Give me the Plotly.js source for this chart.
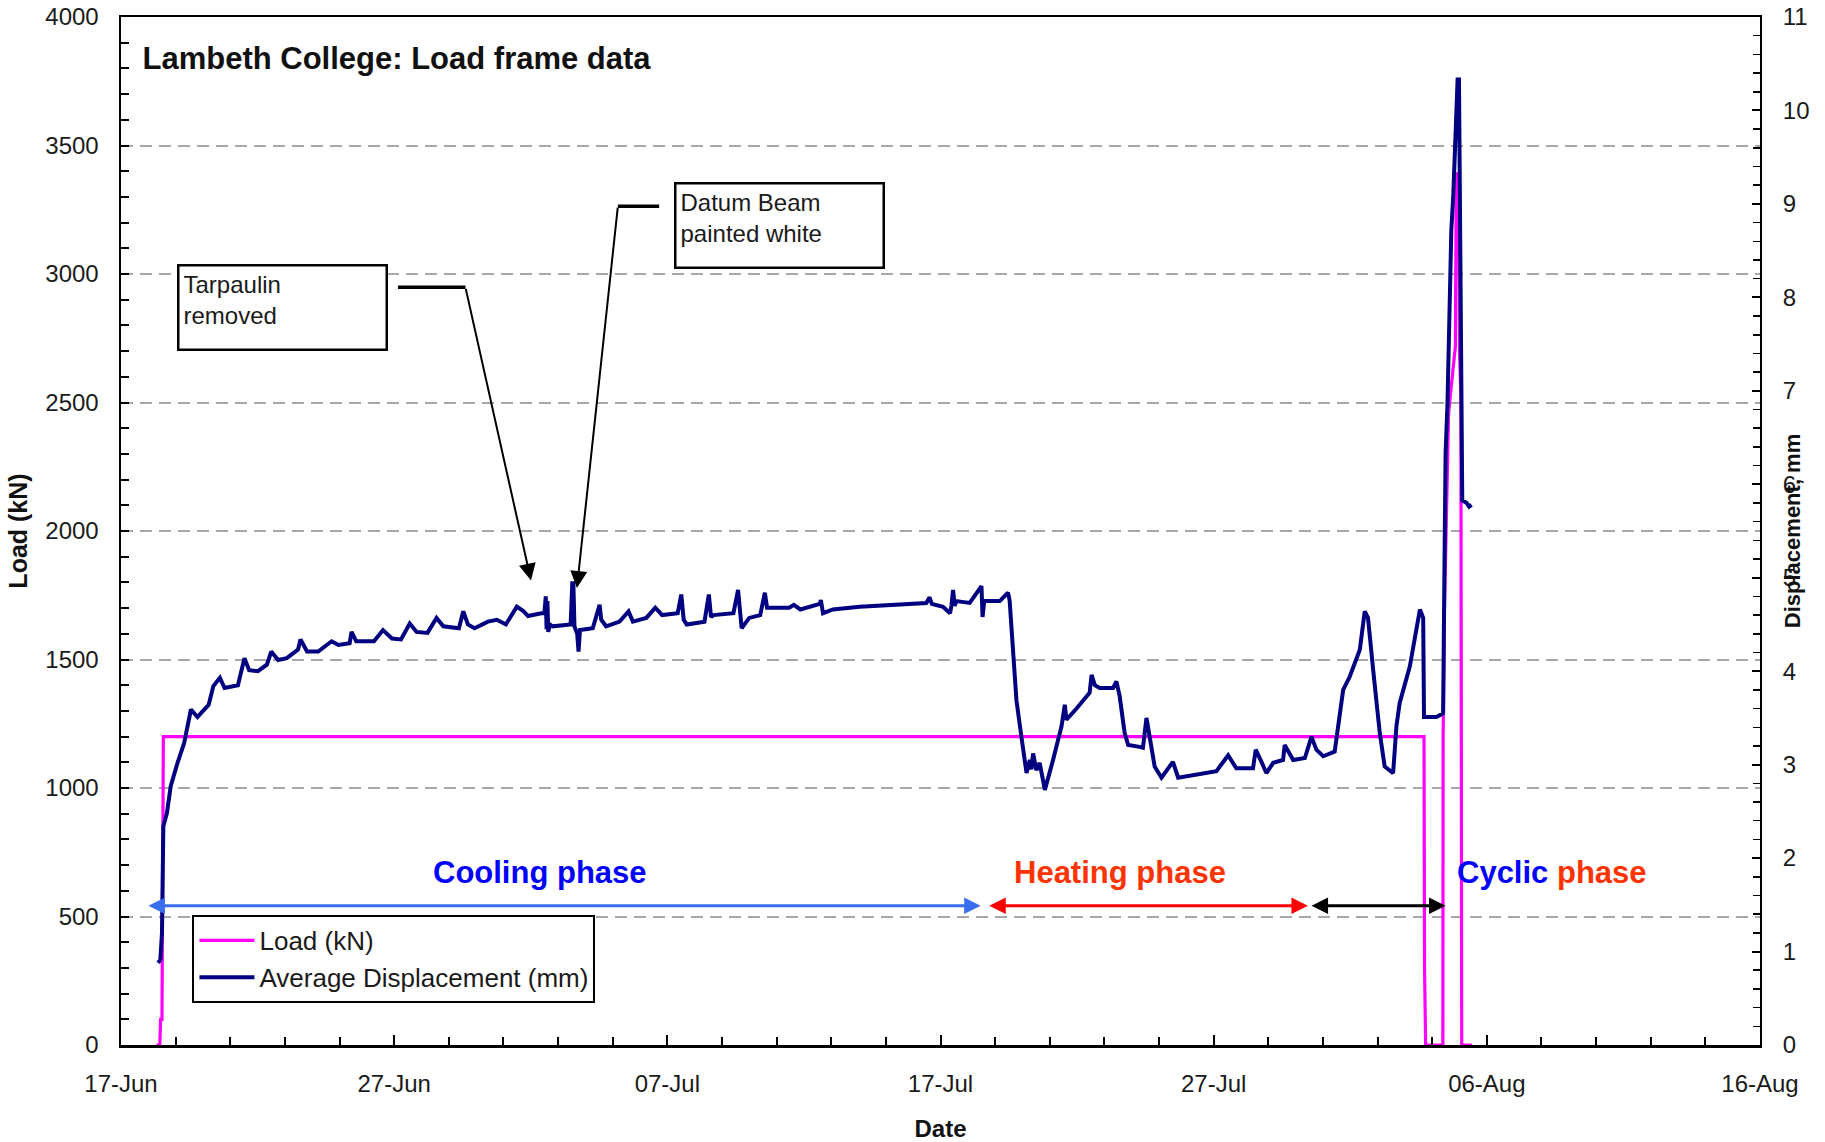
<!DOCTYPE html>
<html>
<head>
<meta charset="utf-8">
<script src="https://cdn.plot.ly/plotly-3.0.1.min.js"></script>
<style>
html,body{margin:0;padding:0;background:#fff;}
#chart{width:1825px;height:1142px;}
</style>
</head>
<body>
<div id="chart"></div>
<script>
// ---------------- DATA (days elapsed since 17-Jun) ----------------
const startYear = 2006, startMonth = 5, startDay = 17;   // 17-Jun
const xTickDays = [0, 10, 20, 30, 40, 50, 60];
const xTickLabels = ['17-Jun', '27-Jun', '07-Jul', '17-Jul', '27-Jul', '06-Aug', '16-Aug'];

const loadDays = [1.30, 1.42, 1.45, 1.50, 1.55, 47.70, 47.72, 47.76, 48.39, 48.40, 48.45, 48.52, 48.60, 48.85, 48.88, 48.97, 49.00, 49.05, 49.08, 49.45];
const loadKN   = [0, 0, 100, 100, 1200, 1200, 300, 0, 0, 1200, 1700, 2100, 2460, 2720, 3390, 3390, 2700, 2530, 0, 0];

const dispDays = [1.355,1.44,1.50,1.55,1.68,1.82,2.07,2.31,2.56,2.80,
  3.21,3.38,3.62,3.79,4.28,4.52,4.69,5.01,5.34,5.50,
  5.75,6.07,6.48,6.57,6.81,7.22,7.71,7.96,8.37,8.44,
  8.61,9.26,9.59,9.92,10.25,10.57,10.82,11.22,11.55,11.80,
  12.37,12.53,12.70,12.94,13.43,13.76,14.09,14.49,14.74,14.90,
  15.39,15.50,15.55,15.58,15.61,15.64,15.70,15.80,16.46,16.52,
  16.56,16.60,16.70,16.75,16.80,17.27,17.52,17.58,17.76,18.25,
  18.58,18.74,19.23,19.56,19.81,20.38,20.51,20.60,20.71,21.36,
  21.52,21.60,21.69,22.42,22.59,22.66,22.72,23.00,23.40,23.57,
  23.65,23.73,24.46,24.63,24.87,25.58,25.62,25.70,26.06,27.04,
  28.50,29.48,29.60,29.68,30.09,30.35,30.40,30.46,30.52,30.58,
  31.07,31.50,31.54,31.60,32.17,32.47,32.53,32.65,32.78,32.96,
  33.15,33.27,33.33,33.39,33.51,33.63,33.82,34.12,34.43,34.55,
  34.61,34.98,35.46,35.53,35.65,35.83,36.32,36.44,36.56,36.74,
  36.87,37.29,37.41,37.54,37.66,37.84,38.09,38.51,38.70,39.37,
  40.10,40.53,40.83,41.44,41.54,41.75,41.93,42.18,42.54,42.60,
  42.91,43.34,43.58,43.76,44.01,44.43,44.56,44.74,44.98,45.35,
  45.53,45.65,45.84,46.08,46.26,46.57,46.69,46.81,47.18,47.55,
  47.67,47.70,48.16,48.40,48.44,48.46,48.49,48.56,48.64,48.70,
  48.77,48.83,48.89,48.93,48.98,49.01,49.07,49.10,49.26,49.35,
  49.44];
const dispMM = [0.88,0.91,1.20,2.34,2.48,2.77,3.02,3.23,3.59,3.51,
  3.64,3.84,3.93,3.82,3.85,4.14,4.01,4.00,4.07,4.21,
  4.12,4.14,4.23,4.34,4.21,4.21,4.32,4.28,4.30,4.42,
  4.32,4.32,4.44,4.35,4.34,4.51,4.42,4.41,4.57,4.48,
  4.46,4.64,4.50,4.46,4.53,4.55,4.50,4.69,4.64,4.59,
  4.62,4.62,4.80,4.45,4.75,4.42,4.50,4.48,4.50,4.94,
  4.94,4.48,4.40,4.21,4.44,4.46,4.71,4.55,4.48,4.53,
  4.64,4.53,4.57,4.68,4.60,4.62,4.82,4.55,4.50,4.53,
  4.82,4.58,4.60,4.62,4.87,4.65,4.46,4.57,4.60,4.84,
  4.68,4.68,4.68,4.71,4.66,4.72,4.76,4.62,4.66,4.69,
  4.71,4.73,4.79,4.72,4.69,4.62,4.70,4.87,4.70,4.75,
  4.73,4.91,4.58,4.75,4.75,4.84,4.76,4.26,3.69,3.30,
  2.91,3.05,2.95,3.12,2.94,3.02,2.73,3.05,3.41,3.64,
  3.48,3.60,3.77,3.96,3.85,3.82,3.82,3.89,3.73,3.34,
  3.21,3.19,3.18,3.50,3.27,2.98,2.86,3.03,2.86,2.89,
  2.93,3.10,2.96,2.96,3.16,3.03,2.91,3.02,3.05,3.21,
  3.05,3.07,3.30,3.16,3.09,3.14,3.44,3.80,3.94,4.23,
  4.64,4.57,4.01,3.34,2.98,2.91,3.41,3.66,4.05,4.66,
  4.57,3.51,3.51,3.55,4.84,5.80,6.33,6.87,8.28,8.72,
  9.08,9.47,10.06,10.33,10.33,9.12,6.94,5.83,5.80,5.76,
  5.78];

// ---------------- HELPERS ----------------
const T0 = Date.UTC(startYear, startMonth, startDay);
function toDate(d) {
  return new Date(T0 + Math.round(d * 86400000)).toISOString().slice(0, 19).replace('T', ' ');
}
const FONT = 'Liberation Sans, Arial, Helvetica, sans-serif';
const TXT = '#1a1a1a';

const traces = [
  {
    x: loadDays.map(toDate), y: loadKN, name: 'Load (kN)',
    type: 'scatter', mode: 'lines', yaxis: 'y',
    line: {color: '#FF00FF', width: 3.2}
  },
  {
    x: dispDays.map(toDate), y: dispMM, name: 'Average Displacement (mm)',
    type: 'scatter', mode: 'lines', yaxis: 'y2',
    line: {color: '#000080', width: 4}
  }
];

function dblArrow(d0, d1, yv, color) {
  return {
    x: toDate(d1), y: yv, ax: toDate(d0), ay: yv,
    xref: 'x', yref: 'y', axref: 'x', ayref: 'y',
    text: '', showarrow: true, arrowside: 'end+start',
    arrowhead: 2, startarrowhead: 2, arrowsize: 1.1, startarrowsize: 1.1,
    arrowwidth: 3, arrowcolor: color, standoff: 0, startstandoff: 0
  };
}

const layout = {
  width: 1825, height: 1142,
  margin: {l: 121, r: 65, t: 17, b: 97, pad: 0},
  paper_bgcolor: '#ffffff', plot_bgcolor: '#ffffff',
  font: {family: FONT, color: TXT, size: 24},
  showlegend: true,
  title: {
    text: 'Lambeth College: Load frame data',
    font: {family: FONT, size: 31, weight: 'bold', color: '#111'},
    xref: 'paper', x: 0.0131, xanchor: 'left',
    yref: 'container', y: 0.9492, yanchor: 'middle', pad: {t: 0, b: 0, l: 0, r: 0}
  },
  xaxis: {
    type: 'date',
    range: [toDate(0), toDate(60)],
    tickmode: 'array', tickvals: xTickDays.map(toDate), ticktext: xTickLabels,
    ticks: 'inside', ticklen: 10, tickwidth: 2, tickcolor: '#000',
    minor: {tickmode: 'linear', tick0: toDate(0), dtick: 2 * 86400000, ticks: 'inside', ticklen: 8, tickwidth: 2, tickcolor: '#000', showgrid: false},
    showline: true, linewidth: 2.5, linecolor: '#000', mirror: true,
    showgrid: false, zeroline: false,
    tickfont: {family: FONT, size: 24, color: TXT},
    ticklabelstandoff: 16,
    title: {text: 'Date', font: {family: FONT, size: 24, weight: 'bold', color: '#111'}, standoff: 24},
    automargin: false
  },
  yaxis: {
    range: [0, 4000], tick0: 0, dtick: 500,
    ticks: 'inside', ticklen: 8, tickwidth: 2, tickcolor: '#000',
    minor: {dtick: 100, ticks: 'inside', ticklen: 8, tickwidth: 2, tickcolor: '#000', showgrid: false},
    showline: true, linewidth: 2.5, linecolor: '#000', mirror: false,
    showgrid: true, gridcolor: '#A8A8A8', gridwidth: 2, griddash: '12px,7px',
    zeroline: false,
    tickfont: {family: FONT, size: 24, color: TXT},
    ticklabelstandoff: 15,
    title: {text: 'Load (kN)', font: {family: FONT, size: 25, weight: 'bold', color: '#111'}, standoff: 11},
    automargin: false
  },
  yaxis2: {
    overlaying: 'y', side: 'right', anchor: 'x',
    range: [0, 11], tick0: 0, dtick: 1,
    ticks: 'inside', ticklen: 8, tickwidth: 2, tickcolor: '#000',
    minor: {dtick: 0.2, ticks: 'inside', ticklen: 7, tickwidth: 1.5, tickcolor: '#000', showgrid: false},
    showline: true, linewidth: 2, linecolor: '#000',
    showgrid: false, zeroline: false,
    tickfont: {family: FONT, size: 24, color: TXT},
    ticklabelstandoff: 16,
    automargin: false
  },
  legend: {
    x: 0.0436, y: 0.1265, xanchor: 'left', yanchor: 'top',
    bgcolor: '#ffffff', bordercolor: '#000', borderwidth: 2,
    font: {family: FONT, size: 26, color: TXT},
    itemwidth: 55, tracegroupgap: 0
  },
  shapes: [
    {type: 'line', xref: 'x', yref: 'y', x0: toDate(10.14), x1: toDate(12.61), y0: 2948, y1: 2948, line: {color: '#000', width: 3.5}},
    {type: 'line', xref: 'x', yref: 'y', x0: toDate(19.70), x1: toDate(18.19), y0: 3264, y1: 3264, line: {color: '#000', width: 3.5}}
  ],
  annotations: [
    // right axis title (overlaps ticks 5 & 6 as in the original)
    {text: 'Displacement, mm', xref: 'paper', yref: 'paper', x: 1.0195, y: 0.4998,
     textangle: -90, showarrow: false, xanchor: 'center', yanchor: 'middle',
     font: {family: FONT, size: 22, weight: 'bold', color: '#111'}},
    // note boxes
    {text: 'Tarpaulin<br>removed', xref: 'paper', yref: 'paper', x: 0.0341, y: 0.7601,
     xanchor: 'left', yanchor: 'top', align: 'left', valign: 'top', showarrow: false,
     width: 198, height: 74, borderpad: 4, borderwidth: 2.5, bordercolor: '#000', bgcolor: '#fff',
     font: {family: FONT, size: 24, color: TXT}},
    {text: 'Datum Beam<br>painted white', xref: 'paper', yref: 'paper', x: 0.3371, y: 0.8396,
     xanchor: 'left', yanchor: 'top', align: 'left', valign: 'top', showarrow: false,
     width: 198, height: 74, borderpad: 4, borderwidth: 2.5, bordercolor: '#000', bgcolor: '#fff',
     font: {family: FONT, size: 24, color: TXT}},
    // leader arrows
    {x: toDate(15.01), y: 1807, ax: toDate(12.61), ay: 2948, xref: 'x', yref: 'y', axref: 'x', ayref: 'y',
     text: '', showarrow: true, arrowhead: 2, arrowsize: 1.7, arrowwidth: 2, arrowcolor: '#000', standoff: 0},
    {x: toDate(16.69), y: 1778, ax: toDate(18.19), ay: 3264, xref: 'x', yref: 'y', axref: 'x', ayref: 'y',
     text: '', showarrow: true, arrowhead: 2, arrowsize: 1.7, arrowwidth: 2, arrowcolor: '#000', standoff: 0},
    // phase labels
    {text: 'Cooling phase', xref: 'paper', yref: 'paper', x: 0.2554, y: 0.168, showarrow: false,
     xanchor: 'center', yanchor: 'middle', font: {family: FONT, size: 31, weight: 'bold', color: '#0000FF'}},
    {text: 'Heating phase', xref: 'paper', yref: 'paper', x: 0.6095, y: 0.168, showarrow: false,
     xanchor: 'center', yanchor: 'middle', font: {family: FONT, size: 31, weight: 'bold', color: '#FF3300'}},
    {text: '<span style="color:#0000FF">Cyclic</span> <span style="color:#FF3300">phase</span>', xref: 'paper', yref: 'paper',
     x: 0.8731, y: 0.168, showarrow: false,
     xanchor: 'center', yanchor: 'middle', font: {family: FONT, size: 31, weight: 'bold', color: '#FF3300'}},
    // phase arrows
    dblArrow(0.95, 31.47, 542, '#3A6EF0'),
    dblArrow(31.73, 43.45, 542, '#FF0000'),
    dblArrow(43.53, 48.49, 542, '#000000')
  ]
};

Plotly.newPlot('chart', traces, layout, {displayModeBar: false, staticPlot: true});
</script>
</body>
</html>
